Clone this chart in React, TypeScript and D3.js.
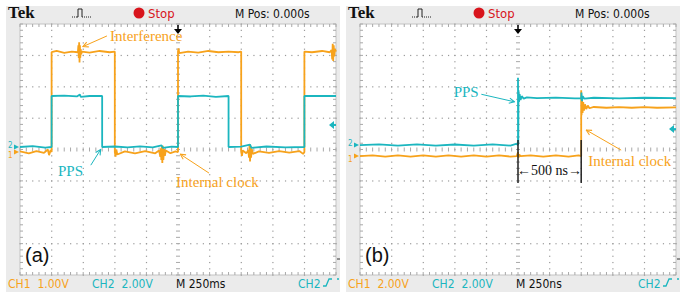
import * as d3 from "d3";
import React from "react";

type Pt = [number, number];

// panel (a): time in ms, amplitude in volts
const ch1A: Pt[] = [
  [-1250, 0.02], [-1180, -0.04], [-1120, 0.03], [-1060, -0.03], [-1030, 0.08], [-1020, -0.1], [-1008, 0.06], [-1000, 0],
  [-1000, 3.18], [-960, 3.22], [-900, 3.16], [-840, 3.2], [-792, 3.18], [-788, 3.4], [-785, 3.0], [-782, 3.5], [-779, 2.85],
  [-776, 3.4], [-773, 3.0], [-770, 3.28], [-766, 3.12], [-760, 3.2], [-700, 3.17], [-620, 3.22], [-540, 3.18], [-500, 3.2],
  [-500, 0], [-494, -0.15], [-488, 0.08], [-480, -0.08], [-420, 0.02], [-340, -0.04], [-260, 0.03], [-180, -0.04], [-150, 0.05],
  [-140, -0.15], [-136, 0.12], [-132, -0.25], [-128, 0.18], [-124, -0.35], [-120, 0.2], [-116, -0.25], [-110, 0.1], [-104, -0.12],
  [-96, 0.05], [-60, -0.04], [-20, 0.02], [0, 0],
  [0, 3.2], [4, 3.3], [10, 3.15], [80, 3.2], [160, 3.17], [240, 3.22], [320, 3.18], [400, 3.2], [480, 3.18], [500, 3.2],
  [500, 0], [506, -0.12], [512, 0.05], [540, -0.04], [556, 0.06], [562, -0.18], [566, 0.25], [570, -0.3], [574, 0.2], [578, -0.18],
  [584, 0.1], [592, -0.06], [640, 0.02], [720, -0.03], [800, 0.03], [880, -0.02], [960, 0.03], [990, -0.06], [1000, 0],
  [1000, 3.2], [1060, 3.18], [1140, 3.22], [1200, 3.18], [1215, 3.25], [1220, 2.95], [1224, 3.45], [1228, 2.9], [1232, 3.4],
  [1236, 3.05], [1242, 3.28], [1250, 3.2],
];
const ch2A: Pt[] = [
  [-1250, 0], [-1150, 0.06], [-1050, -0.04], [-1000, 0], [-1000, 3.25], [-900, 3.28], [-800, 3.22], [-776, 3.35], [-770, 3.2],
  [-700, 3.25], [-600, 3.25], [-600, 0], [-500, 0.03], [-400, -0.03], [-300, 0.04], [-200, -0.02], [-130, 0.1], [-120, -0.06],
  [-50, 0.02], [0, 0], [0, 3.25], [100, 3.22], [200, 3.28], [300, 3.2], [400, 3.25], [400, 0], [500, 0.02], [570, 0.15],
  [580, -0.05], [700, 0.03], [850, -0.02], [1000, 0], [1000, 3.25], [1250, 3.25],
];

// panel (b): time in ns, amplitude in volts
const ch1B: Pt[] = [
  [-1250, 0], [-1150, 0.05], [-1050, -0.03], [-950, 0.04], [-850, -0.03], [-750, 0.05], [-650, -0.03], [-550, 0.04],
  [-450, -0.03], [-350, 0.04], [-250, -0.03], [-150, 0.04], [-60, -0.03], [-10, 0], [0, 0.25], [4, -0.1], [10, 0.1], [20, 0],
  [100, 0.04], [200, -0.03], [300, 0.04], [400, -0.03], [480, 0.04], [500, 0],
  [500, 4.2], [503, 2.6], [507, 3.6], [511, 2.75], [516, 3.45], [522, 2.9], [530, 3.3], [540, 3.0], [552, 3.22], [565, 3.05],
  [600, 3.13], [700, 3.08], [800, 3.12], [900, 3.08], [1000, 3.12], [1100, 3.08], [1250, 3.1],
];
const ch2B: Pt[] = [
  [-1250, 0], [-1100, 0.05], [-950, -0.03], [-800, 0.05], [-650, -0.03], [-500, 0.04], [-350, -0.03], [-200, 0.05],
  [-60, -0.03], [-15, 0.08], [0, 0], [0, 4.3], [2, 0.1], [4, 3.5], [8, 2.75], [13, 3.25], [20, 2.88], [30, 3.12], [45, 2.96],
  [70, 3.04], [150, 3.0], [300, 3.03], [450, 2.98], [500, 3.0], [502, 3.35], [506, 2.8], [512, 3.12], [525, 2.96],
  [600, 3.02], [800, 2.98], [1000, 3.02], [1250, 3.0],
];

const ORANGE = "#f7a21b";
const TEAL = "#1bb6bf";

interface Note { text: string; color: string; tx: number; ty: number; from: Pt; to: Pt; }

interface PanelCfg {
  ox: number;
  tDomain: [number, number];
  ch1: Pt[]; ch2: Pt[];
  ch1Scale: number; ch2Scale: number;
  ch1Off: number; ch2Off: number;
  trigLevel: number;
  label: string;
  status: string[];
  notes: Note[];
  markers?: number[];
}

const panels: PanelCfg[] = [
  {
    ox: 0, tDomain: [-1250, 1250], ch1: ch1A, ch2: ch2A, ch1Scale: 1, ch2Scale: 2, ch1Off: -0.08, ch2Off: 0.08,
    trigLevel: 0.78, label: "(a)", status: ["CH1  1.00V", "CH2  2.00V", "M 250ms"],
    notes: [
      { text: "Interference", color: ORANGE, tx: -538, ty: 3.45, from: [-562, 3.62], to: [-752, 3.28] },
      { text: "PPS", color: TEAL, tx: -949, ty: -0.85, from: [-690, -0.5], to: [-612, 0.0] },
      { text: "Internal clock", color: ORANGE, tx: -16, ty: -1.2, from: [245, -0.75], to: [18, -0.15] },
    ],
  },
  {
    ox: 340, tDomain: [-1250, 1250], ch1: ch1B, ch2: ch2B, ch1Scale: 2, ch2Scale: 2, ch1Off: -0.21, ch2Off: 0.14,
    trigLevel: 0.65, label: "(b)", status: ["CH1  2.00V", "CH2  2.00V", "M 250ns"],
    notes: [
      { text: "PPS", color: TEAL, tx: -509, ty: 1.68, from: [-290, 1.76], to: [-28, 1.52] },
      { text: "Internal clock", color: ORANGE, tx: 556, ty: -0.52, from: [816, -0.02], to: [540, 0.62] },
    ],
    markers: [0, 500],
  },
];

const Panel: React.FC<{ cfg: PanelCfg }> = ({ cfg }) => {
  const { ox } = cfg;
  const left = ox + 20, right = ox + 336, top = 24, bottom = 275;
  const x = d3.scaleLinear().domain(cfg.tDomain).range([left, right]);
  const y = d3.scaleLinear().domain([-4, 4]).range([bottom, top]);
  const gx = d3.scaleLinear().domain([0, 10]).range([left, right]);
  const line = (s: number, off: number) =>
    d3.line<Pt>().x(d => x(d[0])).y(d => y(d[1] / s + off));

  const minorX = d3.range(0, 50.001, 1).map(i => gx(i / 5));
  const minorY = d3.range(0, 40.001, 1).map(i => y(-4 + i / 5));
  const dots: JSX.Element[] = [];
  d3.range(1, 10).forEach(i => {
    if (i === 5) return;
    minorY.forEach((yy, k) => dots.push(<rect key={`v${i}-${k}`} x={gx(i) - 0.5} y={yy - 0.5} width={1.2} height={1.2} fill="#9a9a9a" />));
  });
  d3.range(-3, 4).forEach(j => {
    if (j === 0) return;
    minorX.forEach((xx, k) => dots.push(<rect key={`h${j}-${k}`} x={xx - 0.5} y={y(j) - 0.5} width={1.2} height={1.2} fill="#9a9a9a" />));
  });
  const cx = gx(5), cy = y(0);
  const g2 = y(cfg.ch2Off), g1 = y(cfg.ch1Off);

  return (
    <g>
      <rect x={ox + 6} y={6} width={334} height={286} fill="#ebebeb" />
      <rect x={left} y={top} width={right - left} height={bottom - top} fill="#fff" stroke="#c4c4c4" />
      {dots}
      {/* border and centre ticks */}
      {minorX.map((xx, k) => (
        <g key={`bx${k}`} stroke="#a8a8a8" strokeWidth={1}>
          <line x1={xx} x2={xx} y1={top} y2={top + 3} />
          <line x1={xx} x2={xx} y1={bottom - 3} y2={bottom} />
          <line x1={xx} x2={xx} y1={cy - 2} y2={cy + 2} />
        </g>
      ))}
      {minorY.map((yy, k) => (
        <g key={`by${k}`} stroke="#a8a8a8" strokeWidth={1}>
          <line x1={left} x2={left + 3} y1={yy} y2={yy} />
          <line x1={right - 3} x2={right} y1={yy} y2={yy} />
          <line x1={cx - 2} x2={cx + 2} y1={yy} y2={yy} />
        </g>
      ))}

      {/* traces */}
      <path d={line(cfg.ch1Scale, cfg.ch1Off)(cfg.ch1) || ""} fill="none" stroke={ORANGE} strokeWidth={1.8} strokeLinejoin="bevel" />
      <path d={line(cfg.ch2Scale, cfg.ch2Off)(cfg.ch2) || ""} fill="none" stroke={TEAL} strokeWidth={1.8} strokeLinejoin="bevel" />

      {/* ground markers */}
      <text x={ox + 8} y={g2 + 1} fontSize={8} fill={TEAL} fontFamily="DejaVu Sans Condensed">2</text>
      <path d={`M${ox + 14},${g2 - 2.5}L${ox + 19},${g2}L${ox + 14},${g2 + 2.5}Z`} fill={TEAL} />
      <text x={ox + 8} y={g1 + 6} fontSize={8} fill={ORANGE} fontFamily="DejaVu Sans Condensed">1</text>
      <path d={`M${ox + 14},${g1 - 2.5}L${ox + 19},${g1}L${ox + 14},${g1 + 2.5}Z`} fill={ORANGE} />

      {/* trigger level */}
      <path d={`M${right - 7},${y(cfg.trigLevel)}L${right - 2},${y(cfg.trigLevel) - 4}L${right - 2},${y(cfg.trigLevel) + 4}Z`} fill={TEAL} />
      <line x1={right - 5} x2={right} y1={y(cfg.trigLevel)} y2={y(cfg.trigLevel)} stroke={TEAL} strokeWidth={2} />
      {/* trigger position */}
      <line x1={cx} x2={cx} y1={25} y2={30} stroke="#000" strokeWidth={1.5} />
      <path d={`M${cx - 4},${29}L${cx + 4},${29}L${cx},${34}Z`} fill="#000" />

      {/* annotations */}
      {cfg.notes.map((n, i) => (
        <g key={i}>
          <line x1={x(n.from[0])} y1={y(n.from[1])} x2={x(n.to[0])} y2={y(n.to[1])} stroke={n.color} strokeWidth={1}
            markerEnd={`url(#arr-${n.color === TEAL ? "t" : "o"})`} />
          <text x={x(n.tx)} y={y(n.ty)} fontSize={15} fill={n.color} fontFamily="Liberation Serif">{n.text}</text>
        </g>
      ))}
      {cfg.markers && (
        <g>
          {cfg.markers.map(m => (
            <line key={m} x1={x(m)} x2={x(m)} y1={y(0.3)} y2={y(-1.07)} stroke="#222" strokeWidth={1.5} />
          ))}
          <text x={(x(cfg.markers[0]) + x(cfg.markers[1])) / 2} y={y(-0.65) + 5} textAnchor="middle" fontSize={14}
            fontFamily="Liberation Serif" fill="#111">←500 ns→</text>
        </g>
      )}

      <text x={left + 5} y={262} fontSize={20} fontFamily="Liberation Sans" fill="#111">{cfg.label}</text>

      {/* header */}
      <text x={ox + 8} y={18} fontSize={17} fontWeight="bold" fontFamily="Liberation Serif" fill="#111">Tek</text>
      <path d={`M${ox + 72},17 h1 m1,0 h1 m1,0 h1 L${ox + 78},17 L${ox + 78},9 L${ox + 82},9 L${ox + 82},17 h1 m1,0 h1 m1,0 h1 m1,0 h1 m1,0 h1`}
        fill="none" stroke="#222" strokeWidth={1} />
      <circle cx={ox + 139} cy={13} r={5.5} fill="#d8141c" />
      <text x={ox + 148} y={18} fontSize={13} fontFamily="DejaVu Sans Condensed" fill="#d8141c">Stop</text>
      <text x={ox + 235} y={18} fontSize={12} fontFamily="DejaVu Sans Condensed" fill="#111">M Pos: 0.000s</text>

      {/* status line */}
      <text x={ox + 8} y={288} fontSize={12} fontFamily="DejaVu Sans Condensed" fill={ORANGE} xmlSpace="preserve">{cfg.status[0]}</text>
      <text x={ox + 92} y={288} fontSize={12} fontFamily="DejaVu Sans Condensed" fill={TEAL} xmlSpace="preserve">{cfg.status[1]}</text>
      <text x={ox + 176} y={288} fontSize={12} fontFamily="DejaVu Sans Condensed" fill="#111">{cfg.status[2]}</text>
      <text x={ox + 298} y={288} fontSize={12} fontFamily="DejaVu Sans Condensed" fill={TEAL}>CH2</text>
      <path d={`M${ox + 323},286 L${ox + 326},286 L${ox + 329},279 L${ox + 332},279`} fill="none" stroke={TEAL} strokeWidth={1.3} />
      <line x1={ox + 337} x2={ox + 339} y1={279} y2={279} stroke={TEAL} strokeWidth={1.3} />
      <line x1={ox + 337} x2={ox + 340} y1={259} y2={259} stroke="#333" strokeWidth={1} />
    </g>
  );
};

export default function App() {
  return (
    <svg width={689} height={297} style={{ position: "absolute", left: 0, top: 0, background: "#fff" }}>
      <defs>
        <marker id="arr-o" viewBox="0 0 8 8" refX={7} refY={4} markerWidth={7} markerHeight={7} orient="auto">
          <path d="M1,1 L7,4 L1,7" fill="none" stroke={ORANGE} strokeWidth={1.2} />
        </marker>
        <marker id="arr-t" viewBox="0 0 8 8" refX={7} refY={4} markerWidth={7} markerHeight={7} orient="auto">
          <path d="M1,1 L7,4 L1,7" fill="none" stroke={TEAL} strokeWidth={1.2} />
        </marker>
      </defs>
      {panels.map(p => <Panel key={p.ox} cfg={p} />)}
    </svg>
  );
}
